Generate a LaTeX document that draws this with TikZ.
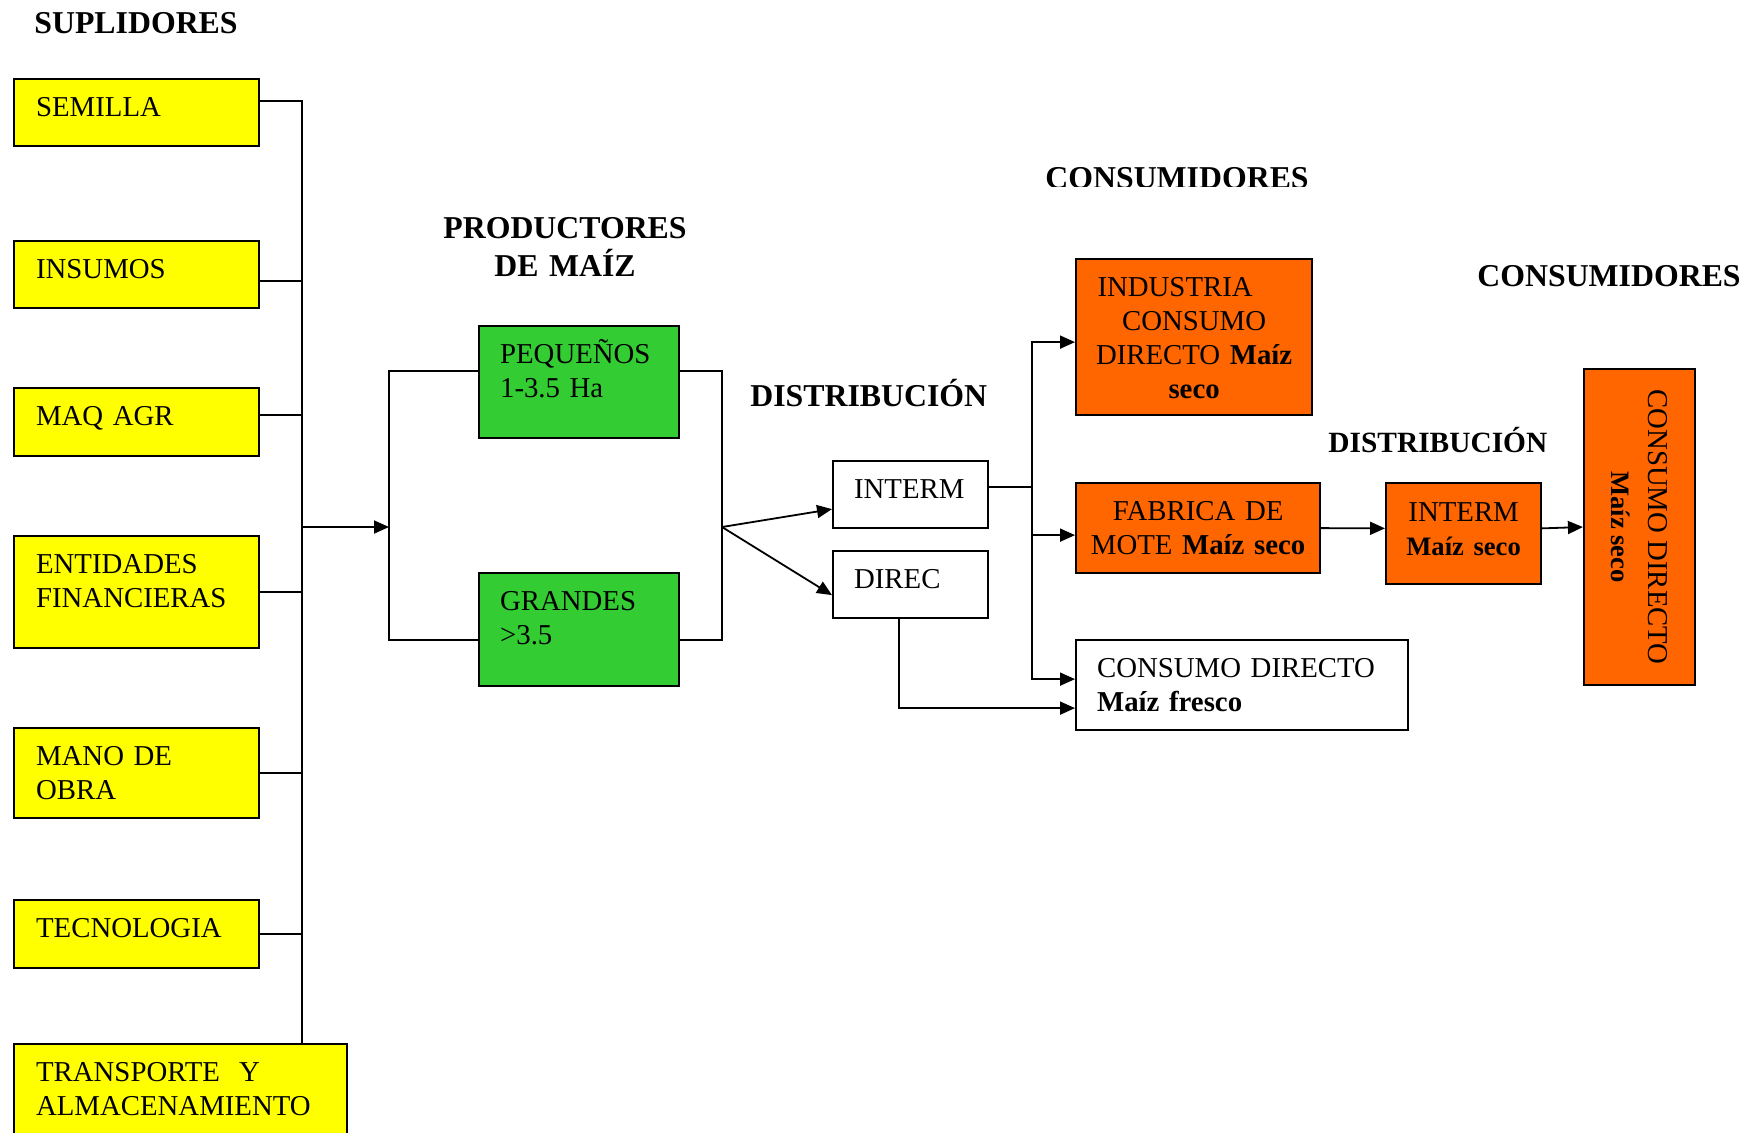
\documentclass[tikz,border=0pt]{standalone}
\usepackage{fontspec}
\setmainfont{Liberation Serif}
\usetikzlibrary{arrows.meta}
\definecolor{supyellow}{HTML}{FFFF00}
\definecolor{prodgreen}{HTML}{33CC33}
\definecolor{consorange}{HTML}{FF6600}
\newcommand{\boxfont}{\fontsize{14.4pt}{17pt}\selectfont}
\newcommand{\headfont}{\fontsize{15.9pt}{19pt}\selectfont\bfseries}
\newcommand{\smallbold}{\fontsize{13.3pt}{16pt}\selectfont\bfseries}

\tikzset{
  box/.style={draw, line width=1.1pt, anchor=north west, inner ysep=0pt,
    font=\boxfont, text height=18.75pt, text depth=#1},
  supbox/.style={box=#1, fill=supyellow, inner xsep=11pt, text width=100.5pt, align=left},
  prodbox/.style={box=#1, fill=prodgreen, inner xsep=10.5pt, text width=79pt, align=left},
  distbox/.style={box=#1, fill=white, inner xsep=10.5pt, text width=56.5pt, align=left},
  consbox/.style={box=#1, fill=consorange, align=center},
  head/.style={anchor=base west, inner sep=0pt, font=\headfont},
  conn/.style={line width=0.9pt},
  arr/.style={conn, -{Triangle[length=7.5pt,width=6.5pt]}}
}

\begin{document}
\begin{tikzpicture}[x=0.5pt,y=-0.5pt]
\clip (0,0) rectangle (1749,1132);

% titulos
\node[head] (hsup) at (34,33) {SUPLIDORES};
\node[head, anchor=base, text width=130pt, align=center] (hprod) at (565,238) {PRODUCTORES\\DE MAÍZ};
\node[head] (hdist) at (750,406) {DISTRIBUCIÓN};
\begin{scope}
\clip (1040,150) rectangle (1320,186);
\node[head] (hcons) at (1045,188) {CONSUMIDORES};
\end{scope}
\node[head] (hcons2) at (1477,286) {CONSUMIDORES};
\node[head, font=\fontsize{14.7pt}{18pt}\selectfont\bfseries] (hdist2) at (1328,452) {DISTRIBUCIÓN};

% suplidores
\node[supbox=14.75pt] (sem) at (13,78) {SEMILLA};
\node[supbox=14.75pt] (ins) at (13,240) {INSUMOS};
\node[supbox=15.25pt] (maq) at (13,387) {MAQ AGR};
\node[supbox=37.25pt] (ent) at (13,535) {ENTIDADES\\FINANCIERAS};
\node[supbox=26.25pt] (mano) at (13,727) {MANO DE\\OBRA};
\node[supbox=15.25pt] (tec) at (13,899) {TECNOLOGIA};
\node[supbox=41.25pt, text width=144.5pt] (trans) at (13,1043) {TRANSPORTE\ \ Y\\ALMACENAMIENTO};

% productores
\node[prodbox=37.25pt] (peq) at (478,325) {PEQUEÑOS\\1-3.5 Ha};
\node[prodbox=37.75pt] (gra) at (478,572) {GRANDES\\>3.5};

% distribucion
\node[distbox=14.75pt] (interm) at (832,460) {INTERM};
\node[distbox=14.75pt] (direc) at (832,550) {DIREC};

% consumidores
\node[consbox=59.25pt, inner xsep=7pt, text width=104pt] (ind) at (1075,258)
  {INDUSTRIA\rule{19pt}{0pt}\\CONSUMO\\DIRECTO \textbf{Maíz}\\\textbf{seco}};
\node[consbox=26.25pt, inner xsep=6pt, text width=110pt] (fab) at (1075,482)
  {FABRICA DE\\MOTE \textbf{Maíz seco}};
\node[distbox=26.25pt, text width=145pt] (cfres) at (1075,639)
  {CONSUMO DIRECTO\\\textbf{Maíz fresco}};
\node[consbox=31.25pt, text height=19pt, inner xsep=3pt, text width=71.5pt] (int2) at (1385,482)
  {INTERM\\{\smallbold Maíz seco}};
\node[draw, line width=1.1pt, fill=consorange, rotate=-90, minimum width=158pt,
  minimum height=55.5pt, inner sep=0pt, align=center, font=\boxfont] (cdir) at (1639.5,527)
  {CONSUMO DIRECTO\\[1.5pt]{\smallbold Maíz seco}};

% conexiones
\coordinate (bus) at (302,527);
\coordinate (pl) at (389,527);
\coordinate (pr) at (722,527);
\coordinate (bus2) at (1032,527);

\draw[conn] ([yshift=5.75pt]sem.east) -| (bus |- trans.north);
\draw[conn] ([yshift=-3.25pt]ins.east) -- ([yshift=-3.25pt]ins.east -| bus);
\draw[conn] ([yshift=3.5pt]maq.east) -- ([yshift=3.5pt]maq.east -| bus);
\draw[conn] (ent.east) -- (ent.east -| bus);
\draw[conn] (mano.east) -- (mano.east -| bus);
\draw[conn] (tec.east) -- (tec.east -| bus);
\draw[arr] (bus) -- (pl);

\draw[conn] ([yshift=5.5pt]peq.west) -| (pl) |- ([yshift=-5.25pt]gra.west);
\draw[conn] ([yshift=5.5pt]peq.east) -| (pr) |- ([yshift=-5.25pt]gra.east);
\draw[arr] (pr) -- ([yshift=-7.25pt]interm.west);
\draw[arr] (pr) -- ([yshift=-5.25pt]direc.west);

\draw[conn] ([yshift=3.75pt]interm.east) -| (bus2);
\draw[arr] (bus2) |- ([yshift=-2.5pt]ind.west);
\draw[arr] (bus2) |- ([yshift=-3.5pt]fab.west);
\draw[arr] (bus2) |- ([yshift=3pt]cfres.west);
\draw[arr] ([xshift=-5.75pt]direc.south) |- ([yshift=-11.5pt]cfres.west);

\draw[arr] (fab.east) -- ([yshift=2.5pt]int2.west);
\draw[arr] ([yshift=2.5pt]int2.east) -- (cdir.south);

\end{tikzpicture}
\end{document}
